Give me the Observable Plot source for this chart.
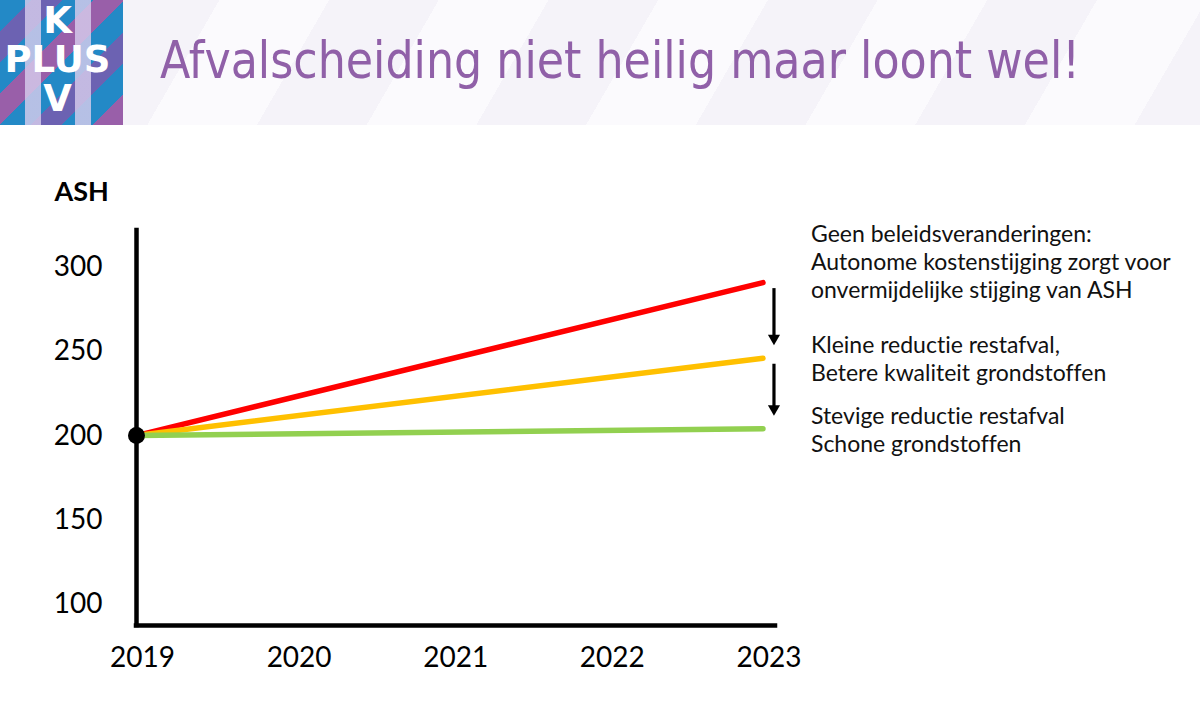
<!DOCTYPE html>
<html>
<head>
<meta charset="utf-8">
<script src="https://cdn.jsdelivr.net/npm/d3@7"></script>
<script src="https://cdn.jsdelivr.net/npm/@observablehq/plot@0.6"></script>
<style>
  html, body { margin: 0; padding: 0; background: #fff; }
  body { width: 1200px; height: 701px; overflow: hidden; font-family: Lato, sans-serif; }
  #header {
    position: relative; height: 125px;
    background: repeating-linear-gradient(120deg, #fbfafd 0 95px, #f5f3f9 95px 190px);
  }
  #logo {
    position: absolute; left: 0; top: 0; width: 123px; height: 125px; overflow: hidden;
    background:
      linear-gradient(to right, transparent 25px, rgba(214, 204, 236, 0.82) 25px 41px, transparent 41px 75px, rgba(214, 204, 236, 0.82) 75px 91px, transparent 91px),
      repeating-linear-gradient(135deg, #2389c6 0 22px, #6c62b2 22px 44px, #2389c6 44px 66px, #995fa9 66px 88px);
  }
  #logo div {
    position: absolute; left: 0; width: 115px; text-align: center;
    font-family: "DejaVu Sans", sans-serif; font-weight: bold; font-size: 37px; line-height: 37px; color: #fff;
  }
  #title {
    position: absolute; left: 160px; top: 34px; display: inline-block; white-space: nowrap;
    font-family: "DejaVu Sans", sans-serif; font-size: 52px; line-height: 52px; color: #9060a8;
    transform-origin: left center;
  }
  #chart svg { display: block; font-variant-ligatures: none; }
</style>
</head>
<body>
<div id="header">
  <div id="logo">
    <div style="top:2px">K</div>
    <div style="top:41px">PLUS</div>
    <div style="top:80px">V</div>
  </div>
  <span id="title">Afvalscheiding niet heilig maar loont wel!</span>
</div>
<div id="chart"></div>
<script>
// Scenario lines for the waste levy (ASH), 2019 → 2023
const years = [2019, 2020, 2021, 2022, 2023];
const yTicks = [100, 150, 200, 250, 300];
const scenarios = ["Geen beleidsveranderingen", "Kleine reductie restafval", "Stevige reductie restafval"];
const ash2019 = [200, 200, 200];
const ash2023 = [291, 246, 204];
const colors = ["#ff0000", "#ffc000", "#92d050"];
const labels = [
  "Geen beleidsveranderingen:\nAutonome kostenstijging zorgt voor\nonvermijdelijke stijging van ASH",
  "Kleine reductie restafval,\nBetere kwaliteit grondstoffen",
  "Stevige reductie restafval\nSchone grondstoffen"
];
const xDomain = [2019, 2023.08];
const yDomain = [87, 322];

// Fit the title to the header width
const title = document.getElementById("title");
title.style.transform = `scaleX(${920 / title.getBoundingClientRect().width})`;

const first = years[0], last = years[years.length - 1];
const rows = scenarios.flatMap((s, i) => [
  {scenario: s, year: first, ash: ash2019[i]},
  {scenario: s, year: last, ash: ash2023[i]}
]);
const ends = scenarios.map((s, i) => ({scenario: s, year: last, ash: ash2023[i], label: labels[i]}));
const steps = ends.slice(1).map((e, i) => ({year: e.year, from: ends[i].ash, to: e.ash}));

const chart = Plot.plot({
  width: 1200,
  height: 576,
  marginTop: 105,
  marginBottom: 76,
  marginLeft: 136,
  marginRight: 425,
  x: {domain: xDomain},
  y: {domain: yDomain},
  color: {domain: scenarios, range: colors},
  style: {fontFamily: "Lato, sans-serif", color: "#000", background: "transparent", overflow: "visible"},
  marks: [
    Plot.axisY({ticks: yTicks, tickSize: 0, tickPadding: 34, fontSize: 28, label: null}),
    Plot.axisX({ticks: years, tickSize: 0, tickPadding: 22, fontSize: 28, dx: 6, label: null, tickFormat: (d) => String(d)}),
    Plot.ruleX([xDomain[0]], {stroke: "#000", strokeWidth: 4.5, strokeLinecap: "square"}),
    Plot.ruleY([yDomain[0]], {stroke: "#000", strokeWidth: 4.5, strokeLinecap: "square"}),
    Plot.line(rows, {x: "year", y: "ash", z: "scenario", stroke: "scenario", strokeWidth: 5.5}),
    Plot.dot(rows.slice(0, 1), {x: "year", y: "ash", r: 8.5, fill: "#000"}),
    // step-down arrows between the scenario end values
    Plot.ruleX(steps, {x: "year", y1: "from", y2: "to", dx: 11, insetTop: 6, insetBottom: 22, stroke: "#000", strokeWidth: 3.2}),
    Plot.dot(steps, {x: "year", y: "to", dx: 11, dy: -20, symbol: "triangle", rotate: 180, r: 4.5, fill: "#000"}),
    Plot.text(ends.slice(0, 1), {x: "year", y: "ash", text: "label", textAnchor: "start", dx: 48, dy: -22, lineHeight: 1.22, fontSize: 23, fill: "#111"}),
    Plot.text(ends.slice(1), {x: "year", y: "ash", text: "label", textAnchor: "start", dx: 48, dy: 0, lineHeight: 1.22, fontSize: 23, fill: "#111"}),
    Plot.text(["ASH"], {frameAnchor: "top-left", text: (d) => d, textAnchor: "start", lineAnchor: "middle", dx: -82, dy: -38, fontSize: 27, fontWeight: "bold", fill: "#000"})
  ]
});
document.getElementById("chart").append(chart);
</script>
</body>
</html>
